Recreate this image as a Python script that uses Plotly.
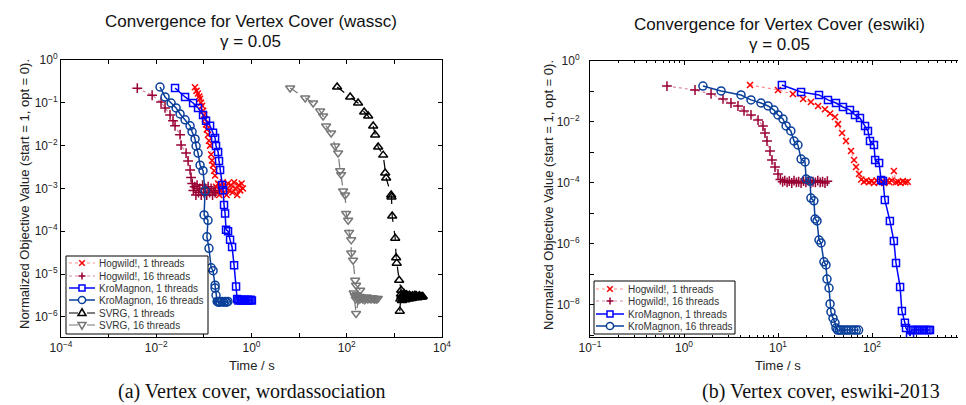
import plotly.graph_objects as go

# ---------------- Left panel: wassc ----------------
wassc_hog1_t = [0.065, 0.070, 0.075, 0.080, 0.083, 0.087, 0.092, 0.097, 0.101, 0.106, 0.111, 0.116, 0.122, 0.128,
                0.135, 0.142, 0.148, 0.156, 0.164, 0.172, 0.18, 0.19, 0.20, 0.21, 0.22, 0.23, 0.25, 0.26, 0.28,
                0.30, 0.32, 0.34, 0.37, 0.40, 0.43, 0.46, 0.50, 0.54, 0.58, 0.62, 0.66]
wassc_hog1_v = [0.23, 0.19, 0.165, 0.14, 0.125, 0.10, 0.085, 0.065, 0.052, 0.042, 0.031, 0.024, 0.018, 0.013,
                0.010, 0.0062, 0.0045, 0.0035, 0.0026, 0.0020, 0.0011, 0.0008, 0.0013, 0.0007, 0.0012, 0.0009,
                0.0014, 0.0008, 0.0011, 0.0007, 0.0013, 0.0009, 0.0012, 0.0008, 0.0014, 0.0010, 0.0007, 0.0012,
                0.0009, 0.0013, 0.0010]

wassc_hog16_t = [0.0040, 0.0082, 0.0126, 0.0153, 0.0195, 0.0225, 0.0248, 0.0316, 0.0332, 0.0423, 0.0466, 0.0513,
                 0.0538, 0.057, 0.060, 0.064, 0.068, 0.072, 0.077, 0.082, 0.088, 0.094, 0.100, 0.107, 0.115,
                 0.123, 0.132, 0.142, 0.152, 0.163, 0.172]
wassc_hog16_v = [0.22, 0.15, 0.104, 0.076, 0.052, 0.038, 0.029, 0.018, 0.0103, 0.0067, 0.0044, 0.0027, 0.0018,
                 0.0013, 0.0009, 0.0011, 0.0007, 0.0012, 0.0008, 0.0010, 0.0007, 0.0012, 0.0008, 0.0010, 0.0007,
                 0.0011, 0.0008, 0.0010, 0.0007, 0.0009, 0.0008]

wassc_km1_t = [0.0248, 0.0403, 0.0593, 0.0755, 0.096, 0.111, 0.135, 0.156, 0.172, 0.180, 0.199, 0.208, 0.219,
               0.241, 0.253, 0.265, 0.279, 0.292, 0.322, 0.355, 0.391, 0.431, 0.474, 0.50, 0.53, 0.56, 0.60,
               0.64, 0.68, 0.73, 0.78, 0.84, 0.90, 0.96, 1.02]
wassc_km1_v = [0.222, 0.137, 0.099, 0.076, 0.052, 0.038, 0.029, 0.020, 0.015, 0.0098, 0.0071, 0.0044, 0.0027,
               0.0012, 0.00091, 0.00041, 0.00026, 0.000109, 0.0001, 6.3e-5, 4.3e-5, 1.6e-5, 5.1e-6, 2.6e-6,
               2.4e-6, 2.5e-6, 2.4e-6, 2.5e-6, 2.4e-6, 2.5e-6, 2.4e-6, 2.5e-6, 2.4e-6, 2.5e-6, 2.4e-6]

wassc_km16_t = [0.0120, 0.0153, 0.0205, 0.0261, 0.0316, 0.0403, 0.0513, 0.0565, 0.0653, 0.0686, 0.0755, 0.0832,
                0.096, 0.106, 0.101, 0.122, 0.116, 0.128, 0.142, 0.156, 0.172, 0.172, 0.180, 0.19, 0.20, 0.21,
                0.22, 0.24, 0.26, 0.28, 0.30, 0.32]
wassc_km16_v = [0.234, 0.137, 0.099, 0.076, 0.055, 0.040, 0.029, 0.021, 0.0143, 0.0098, 0.0067, 0.0035, 0.0026,
                0.00087, 0.00024, 0.00018, 7.4e-5, 4.0e-5, 1.4e-5, 1.2e-5, 5.5e-6, 4.7e-6, 3.2e-6, 2.3e-6, 2.2e-6,
                2.3e-6, 2.2e-6, 2.3e-6, 2.2e-6, 2.3e-6, 2.2e-6, 2.3e-6]

wassc_svrg1_t = [62.8, 118, 173, 232, 282, 359, 395, 457, 582, 641, 673, 857, 870, 900, 1040, 1090, 1120, 1260,
                 1390, 1300, 1330, 1370, 1400, 1440, 1480, 1520, 1560, 1600, 1650, 1700, 1750, 1800, 1850, 1920,
                 2000, 2080, 2150, 2230, 2300, 2400, 2500, 2600, 2700, 2800, 2900, 3050, 3200, 3350, 3500, 3650,
                 3800, 3950]
wassc_svrg1_v = [0.234, 0.137, 0.099, 0.061, 0.049, 0.0287, 0.0177, 0.0093, 0.0060, 0.0023, 0.00175, 0.00070,
                 0.00063, 0.000227, 6.9e-5, 2.4e-5, 1.8e-5, 7.2e-6, 4.2e-6, 1.36e-6, 2.6e-6, 3.4e-6, 3.0e-6,
                 2.4e-6, 3.2e-6, 2.7e-6, 2.9e-6, 3.5e-6, 3.1e-6, 2.5e-6, 3.0e-6, 3.3e-6, 2.8e-6, 3.1e-6, 2.6e-6,
                 3.2e-6, 2.9e-6, 3.0e-6, 2.7e-6, 3.1e-6, 3.0e-6, 2.8e-6, 3.2e-6, 2.9e-6, 3.1e-6, 2.8e-6, 3.0e-6,
                 3.1e-6, 2.9e-6, 3.0e-6, 2.9e-6, 3.0e-6]

wassc_svrg16_t = [6.47, 13.4, 19.7, 27.6, 31.9, 36.9, 47.0, 57.0, 65.9, 72.6, 76.2, 83.9, 92.5, 97.1, 107, 112,
                  124, 124, 136, 150, 157, 191, 157, 140, 148, 155, 163, 170, 178, 186, 195, 205, 215, 226, 238,
                  250, 263, 277, 292, 308, 325, 343, 362, 382, 403, 425, 450]
wassc_svrg16_v = [0.222, 0.130, 0.099, 0.064, 0.049, 0.0287, 0.0197, 0.0098, 0.0067, 0.0026, 0.0021, 0.00087,
                  0.00070, 0.00026, 0.00018, 9.4e-5, 6.3e-5, 3.1e-5, 2.1e-5, 7.2e-6, 5.5e-6, 4.2e-6, 1.2e-6,
                  3.6e-6, 3.1e-6, 2.6e-6, 3.3e-6, 2.8e-6, 2.5e-6, 3.0e-6, 2.7e-6, 2.9e-6, 2.6e-6, 2.8e-6, 2.5e-6,
                  2.7e-6, 2.9e-6, 2.6e-6, 2.8e-6, 2.7e-6, 2.6e-6, 2.8e-6, 2.7e-6, 2.6e-6, 2.7e-6, 2.6e-6, 2.7e-6]

# ---------------- Right panel: eswiki ----------------
eswiki_hog1_t = [5.04, 10.0, 14.4, 18.5, 22.4, 26.7, 31.6, 35.8, 40.4, 43.5, 48.0, 52.9, 59.8, 64.4, 67.6, 72.8,
                 77, 82, 87, 93, 99, 105, 112, 119, 127, 135, 144, 153, 162, 171, 180, 190, 201, 213, 226, 240]
eswiki_hog1_v = [0.163, 0.112, 0.083, 0.057, 0.045, 0.0335, 0.026, 0.019, 0.0145, 0.0085, 0.00436, 0.00238,
                 0.00112, 0.00057, 0.000335, 0.000197, 0.00013, 0.00011, 0.00012, 0.000105, 0.000115, 0.0001,
                 0.00012, 0.000105, 0.00011, 0.0001, 0.000115, 0.000105, 0.00012, 0.000247, 0.000105, 0.00011,
                 0.0001, 0.000115, 0.000105, 0.00011]

eswiki_hog16_t = [0.659, 1.31, 1.94, 2.60, 3.16, 3.75, 4.35, 5.16, 6.13, 6.92, 7.27, 7.64, 8.22, 8.63, 9.29, 10.0,
                  10.6, 11.2, 11.8, 12.5, 13.2, 14.0, 14.8, 15.7, 16.6, 17.6, 18.7, 19.8, 21.0, 22.3, 23.6, 25.0,
                  26.5, 28.1, 29.8, 31.6, 33.5]
eswiki_hog16_v = [0.151, 0.112, 0.083, 0.057, 0.042, 0.0335, 0.023, 0.017, 0.0116, 0.0074, 0.00436, 0.00238,
                  0.00112, 0.00057, 0.000335, 0.000197, 0.00013, 0.00011, 0.00012, 0.000105, 0.000115, 0.00010,
                  0.00012, 0.000105, 0.00011, 0.0001, 0.000115, 0.000105, 0.00012, 0.0001, 0.00011, 0.000105,
                  0.00012, 0.000105, 0.00011, 0.0001, 0.000115]

eswiki_km1_t = [11.0, 17.6, 27.3, 34.0, 41.4, 49.1, 58.3, 65.9, 74.5, 84.3, 90.6, 95.2, 105, 108, 119, 125, 131,
                137, 155, 171, 180, 199, 208, 224, 230, 254, 262, 275, 290, 305, 320, 340, 360, 380, 400, 414]
eswiki_km1_v = [0.163, 0.096, 0.077, 0.053, 0.042, 0.031, 0.0247, 0.017, 0.0135, 0.0074, 0.0051, 0.00238,
                0.00176, 0.00057, 0.00045, 0.000125, 0.000116, 2.77e-5, 5.7e-6, 1.25e-6, 2.4e-7, 3.9e-8, 6.4e-9,
                2.6e-9, 1.76e-9, 9.6e-10, 1.5e-9, 1.5e-9, 1.5e-9, 1.5e-9, 1.5e-9, 1.5e-9, 1.5e-9, 1.5e-9,
                1.5e-9, 1.5e-9]

eswiki_km16_t = [1.59, 2.48, 4.04, 5.16, 6.59, 7.83, 9.06, 10.0, 11.3, 12.2, 13.7, 14.8, 16.3, 17.6, 19.4, 19.9,
                 21.9, 22.4, 24.1, 24.8, 26.0, 27.3, 28.7, 30.8, 32.4, 33.2, 34.9, 35.8, 36.6, 38.5, 40.4, 41.4,
                 43, 45, 47, 50, 53, 56, 60, 64, 68, 72]
eswiki_km16_v = [0.151, 0.104, 0.077, 0.053, 0.042, 0.0335, 0.0247, 0.017, 0.0125, 0.0074, 0.0051, 0.00238,
                 0.00176, 0.00061, 0.00049, 0.000135, 0.000116, 3.2e-5, 2.6e-5, 6.6e-6, 5.7e-6, 1.35e-6, 1.08e-6,
                 2.6e-7, 2.05e-7, 7.1e-8, 3.6e-8, 1.08e-8, 5.9e-9, 3.7e-9, 2.6e-9, 1.76e-9, 1.5e-9, 1.5e-9,
                 1.5e-9, 1.5e-9, 1.5e-9, 1.5e-9, 1.5e-9, 1.5e-9, 1.5e-9, 1.5e-9]

# series names (legend labels)
names_left = ["Hogwild!, 1 threads", "Hogwild!, 16 threads", "KroMagnon, 1 threads",
              "KroMagnon, 16 threads", "SVRG, 1 threads", "SVRG, 16 threads"]
names_right = names_left[:4]

# tick labels
left_x_vals = [1e-4, 1e-2, 1e0, 1e2, 1e4]
left_x_text = ["10<sup>−4</sup>", "10<sup>−2</sup>", "10<sup>0</sup>", "10<sup>2</sup>", "10<sup>4</sup>"]
left_x_minor = [1e-3, 1e-1, 1e1, 1e3]
left_y_vals = [1e0, 1e-1, 1e-2, 1e-3, 1e-4, 1e-5, 1e-6]
left_y_text = ["10<sup>0</sup>", "10<sup>−1</sup>", "10<sup>−2</sup>", "10<sup>−3</sup>", "10<sup>−4</sup>",
               "10<sup>−5</sup>", "10<sup>−6</sup>"]
right_x_vals = [1e-1, 1e0, 1e1, 1e2, 1e3]
right_x_text = ["10<sup>−1</sup>", "10<sup>0</sup>", "10<sup>1</sup>", "10<sup>2</sup>", "10<sup>3</sup>"]
right_x_minor = [m * 10 ** e for e in (-1, 0, 1, 2) for m in range(2, 10)]
right_y_vals = [1e0, 1e-2, 1e-4, 1e-6, 1e-8]
right_y_text = ["10<sup>0</sup>", "10<sup>−2</sup>", "10<sup>−4</sup>", "10<sup>−6</sup>", "10<sup>−8</sup>"]
right_y_minor = [1e-1, 1e-3, 1e-5, 1e-7, 1e-9]

x_title = "Time / s"
y_title = "Normalized Objective Value (start = 1, opt = 0)."

FONT = "Liberation Sans, Arial, sans-serif"
SERIF = "Liberation Serif, Times New Roman, serif"

C_HOG1 = "#ff0000"
C_HOG16 = "#990033"
C_KM1 = "#0000ff"
C_KM16 = "#0a3f9a"
C_SV1 = "#000000"
C_SV16 = "#777777"
L_HOG1 = "rgba(255,0,0,0.45)"
L_HOG16 = "rgba(153,0,51,0.45)"

W, H = 966, 405


def px(x):
    return x / W


def py(y):
    return 1 - y / H


fig = go.Figure()

styles = [
    # color, line color, dash, line width, symbol, size
    (C_HOG1, L_HOG1, "dot", 1.2, "x-thin-open", 6),
    (C_HOG16, L_HOG16, "dot", 1.2, "cross-thin-open", 7),
    (C_KM1, C_KM1, "solid", 1.5, "square-open", 7),
    (C_KM16, C_KM16, "solid", 1.5, "circle-open", 8),
    (C_SV1, C_SV1, "dash", 1.2, "triangle-up-open", 8),
    (C_SV16, C_SV16, "dash", 1.2, "triangle-down-open", 8),
]

left_series = [(wassc_hog1_t, wassc_hog1_v), (wassc_hog16_t, wassc_hog16_v), (wassc_km1_t, wassc_km1_v),
               (wassc_km16_t, wassc_km16_v), (wassc_svrg1_t, wassc_svrg1_v), (wassc_svrg16_t, wassc_svrg16_v)]
right_series = [(eswiki_hog1_t, eswiki_hog1_v), (eswiki_hog16_t, eswiki_hog16_v), (eswiki_km1_t, eswiki_km1_v),
                (eswiki_km16_t, eswiki_km16_v)]

for series, names, xa, ya in [(left_series, names_left, "x", "y"), (right_series, names_right, "x2", "y2")]:
    for (t, v), name, st in zip(series, names, styles):
        color, lcolor, dash, lw, symbol, size = st
        fig.add_trace(go.Scatter(
            x=t, y=v, name=name, mode="lines+markers", xaxis=xa, yaxis=ya, showlegend=False,
            line=dict(color=lcolor, width=lw, dash=dash),
            marker=dict(symbol=symbol, size=size, color=color, line=dict(color=color, width=1.5))))

axis_common = dict(type="log", showgrid=False, zeroline=False, showline=True, linecolor="#000", linewidth=1,
                   mirror="ticks", ticks="inside", ticklen=4, tickcolor="#000", automargin=False,
                   tickfont=dict(family=FONT, size=12, color="#222"))

fig.update_layout(
    template="none",
    width=W, height=H, margin=dict(l=0, r=0, t=0, b=0, pad=0), autosize=False,
    paper_bgcolor="white", plot_bgcolor="white",
    font=dict(family=FONT, color="#222"),
    showlegend=False,
    xaxis=dict(axis_common, domain=[px(53), px(434)], anchor="y", range=[-4, 4],
               tickmode="array", tickvals=left_x_vals, ticktext=left_x_text,
               minor=dict(tickvals=left_x_minor, ticks="inside", ticklen=4, tickcolor="#000")),
    yaxis=dict(axis_common, domain=[py(329), py(52)], anchor="x", range=[-6.47, 0],
               tickmode="array", tickvals=left_y_vals, ticktext=left_y_text),
    xaxis2=dict(axis_common, domain=[px(582), px(958)], anchor="y2", range=[-1, 3],
                tickmode="array", tickvals=right_x_vals, ticktext=right_x_text,
                minor=dict(tickvals=right_x_minor, ticks="inside", ticklen=2, tickcolor="#000")),
    yaxis2=dict(axis_common, domain=[py(329), py(53)], anchor="x2", range=[-9.05, 0],
                tickmode="array", tickvals=right_y_vals, ticktext=right_y_text, ticklabelstandoff=7,
                minor=dict(tickvals=right_y_minor, ticks="inside", ticklen=4, tickcolor="#000")),
)

# ---------- axis titles ----------
for x, y in [(244, 357), (770, 357)]:
    fig.add_annotation(text=x_title, x=px(x), y=py(y), xref="paper", yref="paper", xanchor="center",
                       yanchor="middle", showarrow=False, font=dict(family=FONT, size=13, color="#222"))
for x, y in [(16, 186), (541, 187)]:
    fig.add_annotation(text=y_title, x=px(x), y=py(y), xref="paper", yref="paper", xanchor="center",
                       yanchor="middle", textangle=-90, showarrow=False,
                       font=dict(family=FONT, size=13, color="#222"))

# ---------- titles ----------
titles = [
    ("Convergence for Vertex Cover (wassc)", 243, 13),
    ("γ = 0.05", 243, 34),
    ("Convergence for Vertex Cover (eswiki)", 771, 17),
    ("γ = 0.05", 771, 37),
]
for text, x, y in titles:
    fig.add_annotation(text=text, x=px(x), y=py(y), xref="paper", yref="paper", xanchor="center",
                       yanchor="middle", showarrow=False, font=dict(family=FONT, size=17, color="#111"))

# ---------- captions ----------
captions = [
    ("(a) Vertex cover, wordassociation", 244, 383),
    ("(b) Vertex cover, eswiki-2013", 813, 383),
]
for text, x, y in captions:
    fig.add_annotation(text=text, x=px(x), y=py(y), xref="paper", yref="paper", xanchor="center",
                       yanchor="middle", showarrow=False, font=dict(family=SERIF, size=20, color="#111"))

# ---------- legends (boxed, drawn with shapes + text) ----------
marker_paths = {
    "x-thin-open": "M-2.8,-2.8L2.8,2.8M-2.8,2.8L2.8,-2.8",
    "cross-thin-open": "M-3.5,0L3.5,0M0,-3.5L0,3.5",
    "triangle-up-open": "M-4,-2.5L4,-2.5L0,4.2Z",
    "triangle-down-open": "M-4,2.5L4,2.5L0,-4.2Z",
}


def draw_legend(box, rows, line_x, marker_x, text_x, names):
    x0, y0, x1, y1 = box
    fig.add_shape(type="rect", xref="paper", yref="paper", x0=px(x0), x1=px(x1), y0=py(y1), y1=py(y0),
                  line=dict(color="#000", width=1), fillcolor="white", layer="above")
    for ry, name, st in zip(rows, names, styles):
        color, lcolor, dash, lw, symbol, size = st
        fig.add_shape(type="line", xref="paper", yref="paper", x0=px(line_x[0]), x1=px(line_x[1]),
                      y0=py(ry), y1=py(ry), line=dict(color=lcolor, width=lw, dash=dash), layer="above")
        common = dict(xref="paper", yref="paper", xsizemode="pixel", ysizemode="pixel",
                      xanchor=px(marker_x), yanchor=py(ry), layer="above",
                      line=dict(color=color, width=1.5))
        if symbol == "square-open":
            fig.add_shape(type="rect", x0=-3, x1=3, y0=-3, y1=3, fillcolor="white", **common)
        elif symbol == "circle-open":
            fig.add_shape(type="circle", x0=-3.6, x1=3.6, y0=-3.6, y1=3.6, fillcolor="white", **common)
        else:
            fig.add_shape(type="path", path=marker_paths[symbol],
                          fillcolor="white" if "triangle" in symbol else None, **common)
        fig.add_annotation(text=name, x=px(text_x), y=py(ry), xref="paper", yref="paper", xanchor="left",
                           yanchor="middle", showarrow=False, font=dict(family=FONT, size=10, color="#333"))


draw_legend((58, 248, 200, 326), [255, 268, 280, 292, 305, 317], (61, 87), 74, 89, names_left)
draw_legend((586, 273, 727, 326), [281, 293, 306, 318], (588, 616), 602, 618, names_right)

fig.write_html("out.html")
